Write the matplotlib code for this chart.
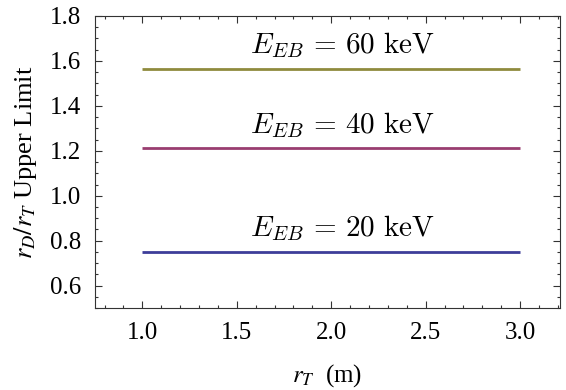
import matplotlib
matplotlib.use("Agg")
import matplotlib.pyplot as plt
from matplotlib.ticker import MultipleLocator, FormatStrFormatter

# data
r_t = [1.0, 3.0]
energies = ["20", "40", "60"]
upper_limits = [0.751, 1.212, 1.564]
colours = ["#3d3d99", "#993d70", "#8f8b3d"]
label_x = [2.06, 2.06, 2.06]
label_y = [0.856, 1.316, 1.671]

plt.rcParams.update({
    "font.family": ["Liberation Serif", "DejaVu Serif"],
    "mathtext.fontset": "stix",
})

fig = plt.figure(figsize=(5.66, 3.90), dpi=100)
ax = fig.add_axes([0.168, 0.21, 0.821, 0.749])

for e, lim, c, lx, ly in zip(energies, upper_limits, colours, label_x, label_y):
    ax.plot(r_t, [lim, lim], color=c, lw=2.0, solid_capstyle="butt")
    ax.text(lx, ly, rf"$E_{{EB}}\,=\,{e}\ \mathrm{{keV}}$", ha="center", va="center",
            fontsize=21, math_fontfamily="cm")

ax.set_xlim(0.75, 3.21)
ax.set_ylim(0.5, 1.8)
ax.xaxis.set_major_locator(MultipleLocator(0.5))
ax.xaxis.set_minor_locator(MultipleLocator(0.1))
ax.yaxis.set_major_locator(MultipleLocator(0.2))
ax.yaxis.set_minor_locator(MultipleLocator(0.05))
ax.xaxis.set_major_formatter(FormatStrFormatter("%.1f"))
ax.yaxis.set_major_formatter(FormatStrFormatter("%.1f"))

ax.tick_params(which="both", direction="in", top=True, right=True,
               color="#333333", labelsize=18, width=0.8)
ax.tick_params(which="major", length=5, pad=10)
ax.tick_params(which="minor", length=2.5)
for s in ax.spines.values():
    s.set_color("#333333")
    s.set_linewidth(0.8)

ax.set_xlabel(r"$r_T$  (m)", fontsize=18, labelpad=13)
ax.set_ylabel(r"$r_D/r_T$ Upper Limit", fontsize=19, labelpad=8)

fig.savefig("out.png", dpi=100)
